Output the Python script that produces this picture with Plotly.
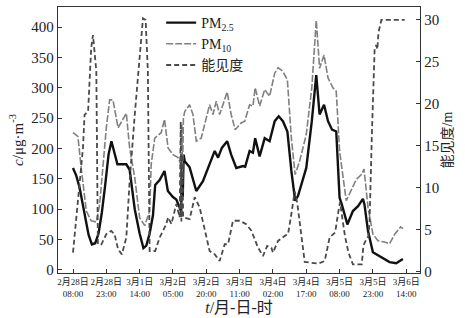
import plotly.graph_objects as go

# hours after 2月28日 08:00
pm25_h = [0, 1.5, 3, 5.4, 7, 8.5, 10, 11.5, 13, 14.5, 16, 17.3, 18.5, 20, 24, 25.5, 27.8, 30, 31.7, 33, 34.5,
          36, 37, 39, 41.2, 42.7, 45, 46.5, 48, 48.7, 49, 49.4, 49.8, 50.3, 52.5, 55.5, 58.5, 60.8, 62.2,
          63.8, 65.3, 67, 69.4, 71.2, 73.5, 76.5, 77.5, 79.5, 81, 82, 84, 86.3, 88.5, 90.8, 92.6, 94.5,
          96.5, 98.3, 100, 101.3, 105, 107.5, 109.5, 111, 113, 114.8, 116.6, 118.5, 120, 121, 123.5, 126,
          128.3, 130.5, 131.2, 132.8, 135, 138.8, 142.5, 145.5, 148.5]
pm25_v = [168, 155, 135, 89, 58, 42, 44, 60, 95, 140, 190, 212, 195, 174, 174, 165, 100, 60, 36, 40, 60,
          90, 140, 148, 163, 130, 120, 116, 103, 95, 185, 120, 190, 179, 169, 130, 146, 168, 179,
          196, 185, 201, 212, 190, 168, 171, 170, 196, 193, 217, 187, 217, 212, 245, 253, 245,
          228, 163, 114, 122, 168, 245, 321, 256, 272, 245, 231, 228, 119, 108, 75, 97,
          105, 117, 108, 64, 29, 21, 13, 11, 18]

pm10_h = [0, 2.2, 3.7, 6, 8.2, 10.5, 12, 15, 16.5, 18, 20.3, 22.5, 24, 25.5, 27.8, 30, 32.3, 34.5, 35.2,
          36.8, 38.3, 39.7, 41.2, 42.8, 45, 47.3, 48.5, 49, 49.3, 49.7, 50.3, 52.5, 54, 55.5, 57.7, 60,
          61.5, 63, 64.5, 66, 68, 69.4, 71.2, 73, 75.7, 77.3, 79.5, 81, 82, 84, 86.3, 88.5, 90.8, 92.3,
          94.5, 96.5, 98.3, 100, 102, 105, 107.5, 109.5, 111, 113, 114.8, 117, 118.5, 120, 123, 125.3,
          127.5, 129.8, 131, 132.8, 135, 137.3, 140.3, 142.5, 144.8, 147.5, 148.5]
pm10_v = [226, 220, 168, 97, 81, 79, 108, 234, 280, 280, 234, 248, 258, 201, 152, 86, 73, 97, 174,
          217, 222, 226, 248, 201, 190, 185, 174, 240, 150, 250, 261, 272, 256, 212, 217, 250,
          272, 256, 278, 256, 278, 293, 256, 231, 242, 245, 272, 270, 300, 270, 297, 286, 324, 333,
          327, 313, 217, 157, 179, 223, 300, 411, 332, 354, 316, 300, 294, 196, 114, 133,
          149, 157, 166, 103, 59, 48, 46, 43, 59, 71, 68]

vis_h = [0, 2, 4.5, 5.2, 6.8, 8.2, 9, 10.5, 11.2, 12.8, 15, 17.2, 18.7, 20.3, 22, 24, 25.5, 27.8, 30,
         31.5, 32.7, 33.7, 34.5, 37, 39, 42, 42.8, 44.3, 46.5, 48, 48.5, 48.8, 49.2, 49.6, 52.5, 54.8,
         57, 59.3, 61.5, 63.8, 66, 68.3, 69.8, 72, 75, 78, 80.3, 83.3, 85.5, 87.4, 89.3, 90, 92.3, 95.3,
         96.8, 98.3, 99.8, 101, 102.8, 104.3, 110.3, 113.3, 115.5, 118, 119.4, 120.2, 122.4, 124, 126,
         130, 130.7, 131.5, 133, 133.5, 134.5, 135.8, 136.5, 137, 137.5, 138.8, 149.3]
vis_v = [2.3, 7.5, 14.8, 18.7, 19.1, 26.7, 28.2, 23.9, 3.3, 3.3, 4.5, 4.9, 4.5, 2.7, 2.1, 4.1, 10.8, 18.7, 25.9,
         30.2, 30, 23.9, 2.5, 2.5, 4.1, 5.7, 6.5, 5.7, 8.1, 6.5, 17.9, 6, 14, 6.5, 6.3, 8.9,
         7.7, 4.9, 2.5, 2.1, 1.3, 3.3, 3.3, 6.1, 6.1, 5.7, 4.9, 2.9, 1.9, 3.1, 2.9, 2.3, 3.7, 4.3,
         4.5, 6.9, 9.6, 8.1, 4.1, 1.2, 1.0, 1.3, 4.1, 4.7, 7.1, 8.3, 4.3, 2.3, 0.9,
         0.9, 3.1, 3.6, 4.3, 6, 16, 26.7, 27, 26.5, 28.5, 30, 30]

tick_h = [0, 15, 30, 45, 60, 75, 90, 105, 120, 135, 150]
tick_labels = ["2月28日<br>08:00", "2月28日<br>23:00", "3月1日<br>14:00", "3月2日<br>05:00",
               "3月2日<br>20:00", "3月3日<br>11:00", "3月4日<br>02:00", "3月4日<br>17:00",
               "3月5日<br>08:00", "3月5日<br>23:00", "3月6日<br>14:00"]
left_ticks = [0, 50, 100, 150, 200, 250, 300, 350, 400]
right_ticks = [0, 5, 10, 15, 20, 25, 30]

SERIF = "Liberation Serif, Noto Sans CJK SC"
INK = "#222"

fig = go.Figure()
fig.add_trace(go.Scatter(x=pm25_h, y=pm25_v, mode="lines", name="PM<sub>2.5</sub>",
                         line=dict(color="#111", width=2.4)))
fig.add_trace(go.Scatter(x=pm10_h, y=pm10_v, mode="lines", name="PM<sub>10</sub>",
                         line=dict(color="#808080", width=1.6, dash="7px,2px")))
fig.add_trace(go.Scatter(x=vis_h, y=vis_v, mode="lines", name="能见度", yaxis="y2",
                         line=dict(color="#4a4a4a", width=1.8, dash="5px,3px")))

axis_common = dict(showgrid=False, zeroline=False, showline=True, linecolor="#333", linewidth=1.3,
                   ticks="inside", ticklen=4, tickcolor="#333",
                   tickfont=dict(family=SERIF, size=15, color=INK))

fig.update_layout(
    width=465, height=318,
    margin=dict(l=58, r=45, t=6, b=44),
    paper_bgcolor="white", plot_bgcolor="white",
    showlegend=True,
    legend=dict(x=0.285, y=1.0, xanchor="left", yanchor="top", bgcolor="rgba(0,0,0,0)",
                font=dict(family=SERIF, size=14, color=INK), tracegroupgap=0,
                itemwidth=30),
    xaxis=dict(range=[-6.75, 156.2], tickvals=tick_h, ticktext=tick_labels, mirror=True,
               tickangle=0,
               title=dict(text="<i>t</i>/月-日-时", standoff=2,
                          font=dict(family=SERIF, size=16, color=INK)),
               **{**axis_common, "tickfont": dict(family=SERIF, size=9, color=INK)}),
    yaxis=dict(range=[-5, 433], tickvals=left_ticks, mirror=False,
               title=dict(text="<i>c</i>/μg·m<sup>-3</sup>", standoff=4,
                          font=dict(family=SERIF, size=15, color=INK)),
               **axis_common),
    yaxis2=dict(range=[-0.12, 31.54], tickvals=right_ticks, overlaying="y", side="right",
                title=dict(text="能见度/m", standoff=4,
                           font=dict(family=SERIF, size=14, color=INK)),
                **axis_common),
)

fig.write_html("out.html")
